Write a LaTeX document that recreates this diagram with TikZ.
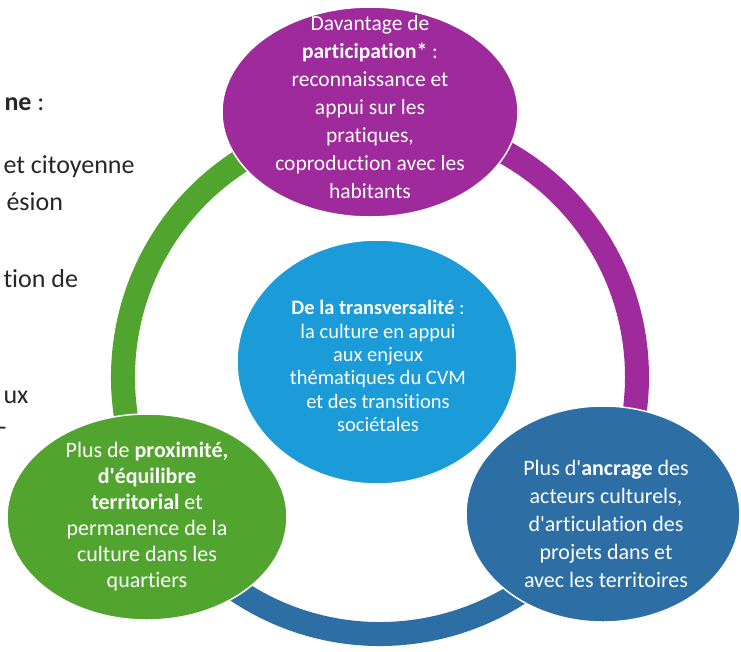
\documentclass[tikz,border=0pt]{standalone}
\usepackage{fontspec}
\setmainfont{Carlito}[Ligatures=NoCommon]
\usetikzlibrary{shapes.geometric}
\definecolor{violetcvm}{RGB}{158,42,155}
\definecolor{vertcvm}{RGB}{81,164,46}
\definecolor{bleucvm}{RGB}{45,110,165}
\definecolor{cielcvm}{RGB}{27,155,215}
\newcommand\apo{\textquotesingle}
\begin{document}
\begin{tikzpicture}[x=1pt,y=-1pt,
  bulle/.style={ellipse,draw=white,line width=1.5pt,inner xsep=-20pt,inner ysep=-40pt},
  anneau/.style={line width=24pt},
  texte/.style={text=white,align=center,font=\fontsize{22}{28}\selectfont},
  marge/.style={anchor=base west,text=black!85,font=\fontsize{26}{31}\selectfont}]
\useasboundingbox (0,0) rectangle (741,651);
\clip (0,0) rectangle (741,651);
\coordinate (hub) at (380,377);
\draw[anneau,draw=vertcvm] (hub) ++(149:257) arc[start angle=149,end angle=268,radius=257];
\draw[anneau,draw=bleucvm] (hub) ++(31.6:257) arc[start angle=31.6,end angle=149,radius=257];
\draw[anneau,draw=violetcvm] (hub) ++(-92:257) arc[start angle=-92,end angle=31.6,radius=257];
\node[bulle,fill=cielcvm,minimum width=280pt,minimum height=244pt] (centre) at (377,362) {};
\node[bulle,fill=violetcvm,minimum width=296pt,minimum height=210pt] (pur) at (370,112) {};
\node[bulle,fill=bleucvm,minimum width=274pt,minimum height=216pt] (ble) at (603,514) {};
\node[bulle,fill=vertcvm,minimum width=280pt,minimum height=206pt] (ver) at (147,517) {};
\node[texte,font=\fontsize{20.5}{23.4}\selectfont] (centretxt) at (378,366)
  {\textbf{De la transversalité} :\\la culture en appui\\aux enjeux\\thématiques du CVM\\et des transitions\\sociétales};
\node[texte,font=\fontsize{21.5}{28}\selectfont] (purtxt) at (370,107)
  {Davantage de\\\textbf{participation*} :\\reconnaissance et\\appui sur les\\pratiques,\\coproduction avec les\\habitants};
\node[texte] (bletxt) at (606,524)
  {Plus d\apo\textbf{ancrage} des\\acteurs culturels,\\d\apo articulation des\\projets dans et\\avec les territoires};
\node[texte,font=\fontsize{22}{26}\selectfont] (vertxt) at (147,517)
  {Plus de \textbf{proximité,}\\\textbf{d\apo équilibre}\\\textbf{territorial} et\\permanence de la\\culture dans les\\quartiers};
\node[marge] (m1) at (1,110) {\textbf{ne} :};
\node[marge] (m2) at (0,173) {et citoyenne};
\node[marge] (m3) at (3,210) {ésion};
\node[marge] (m4) at (0,287) {tion de};
\node[marge] (m5) at (0,403) {ux};
\node[marge] (m6) at (-5,435) {-};
\end{tikzpicture}
\end{document}
